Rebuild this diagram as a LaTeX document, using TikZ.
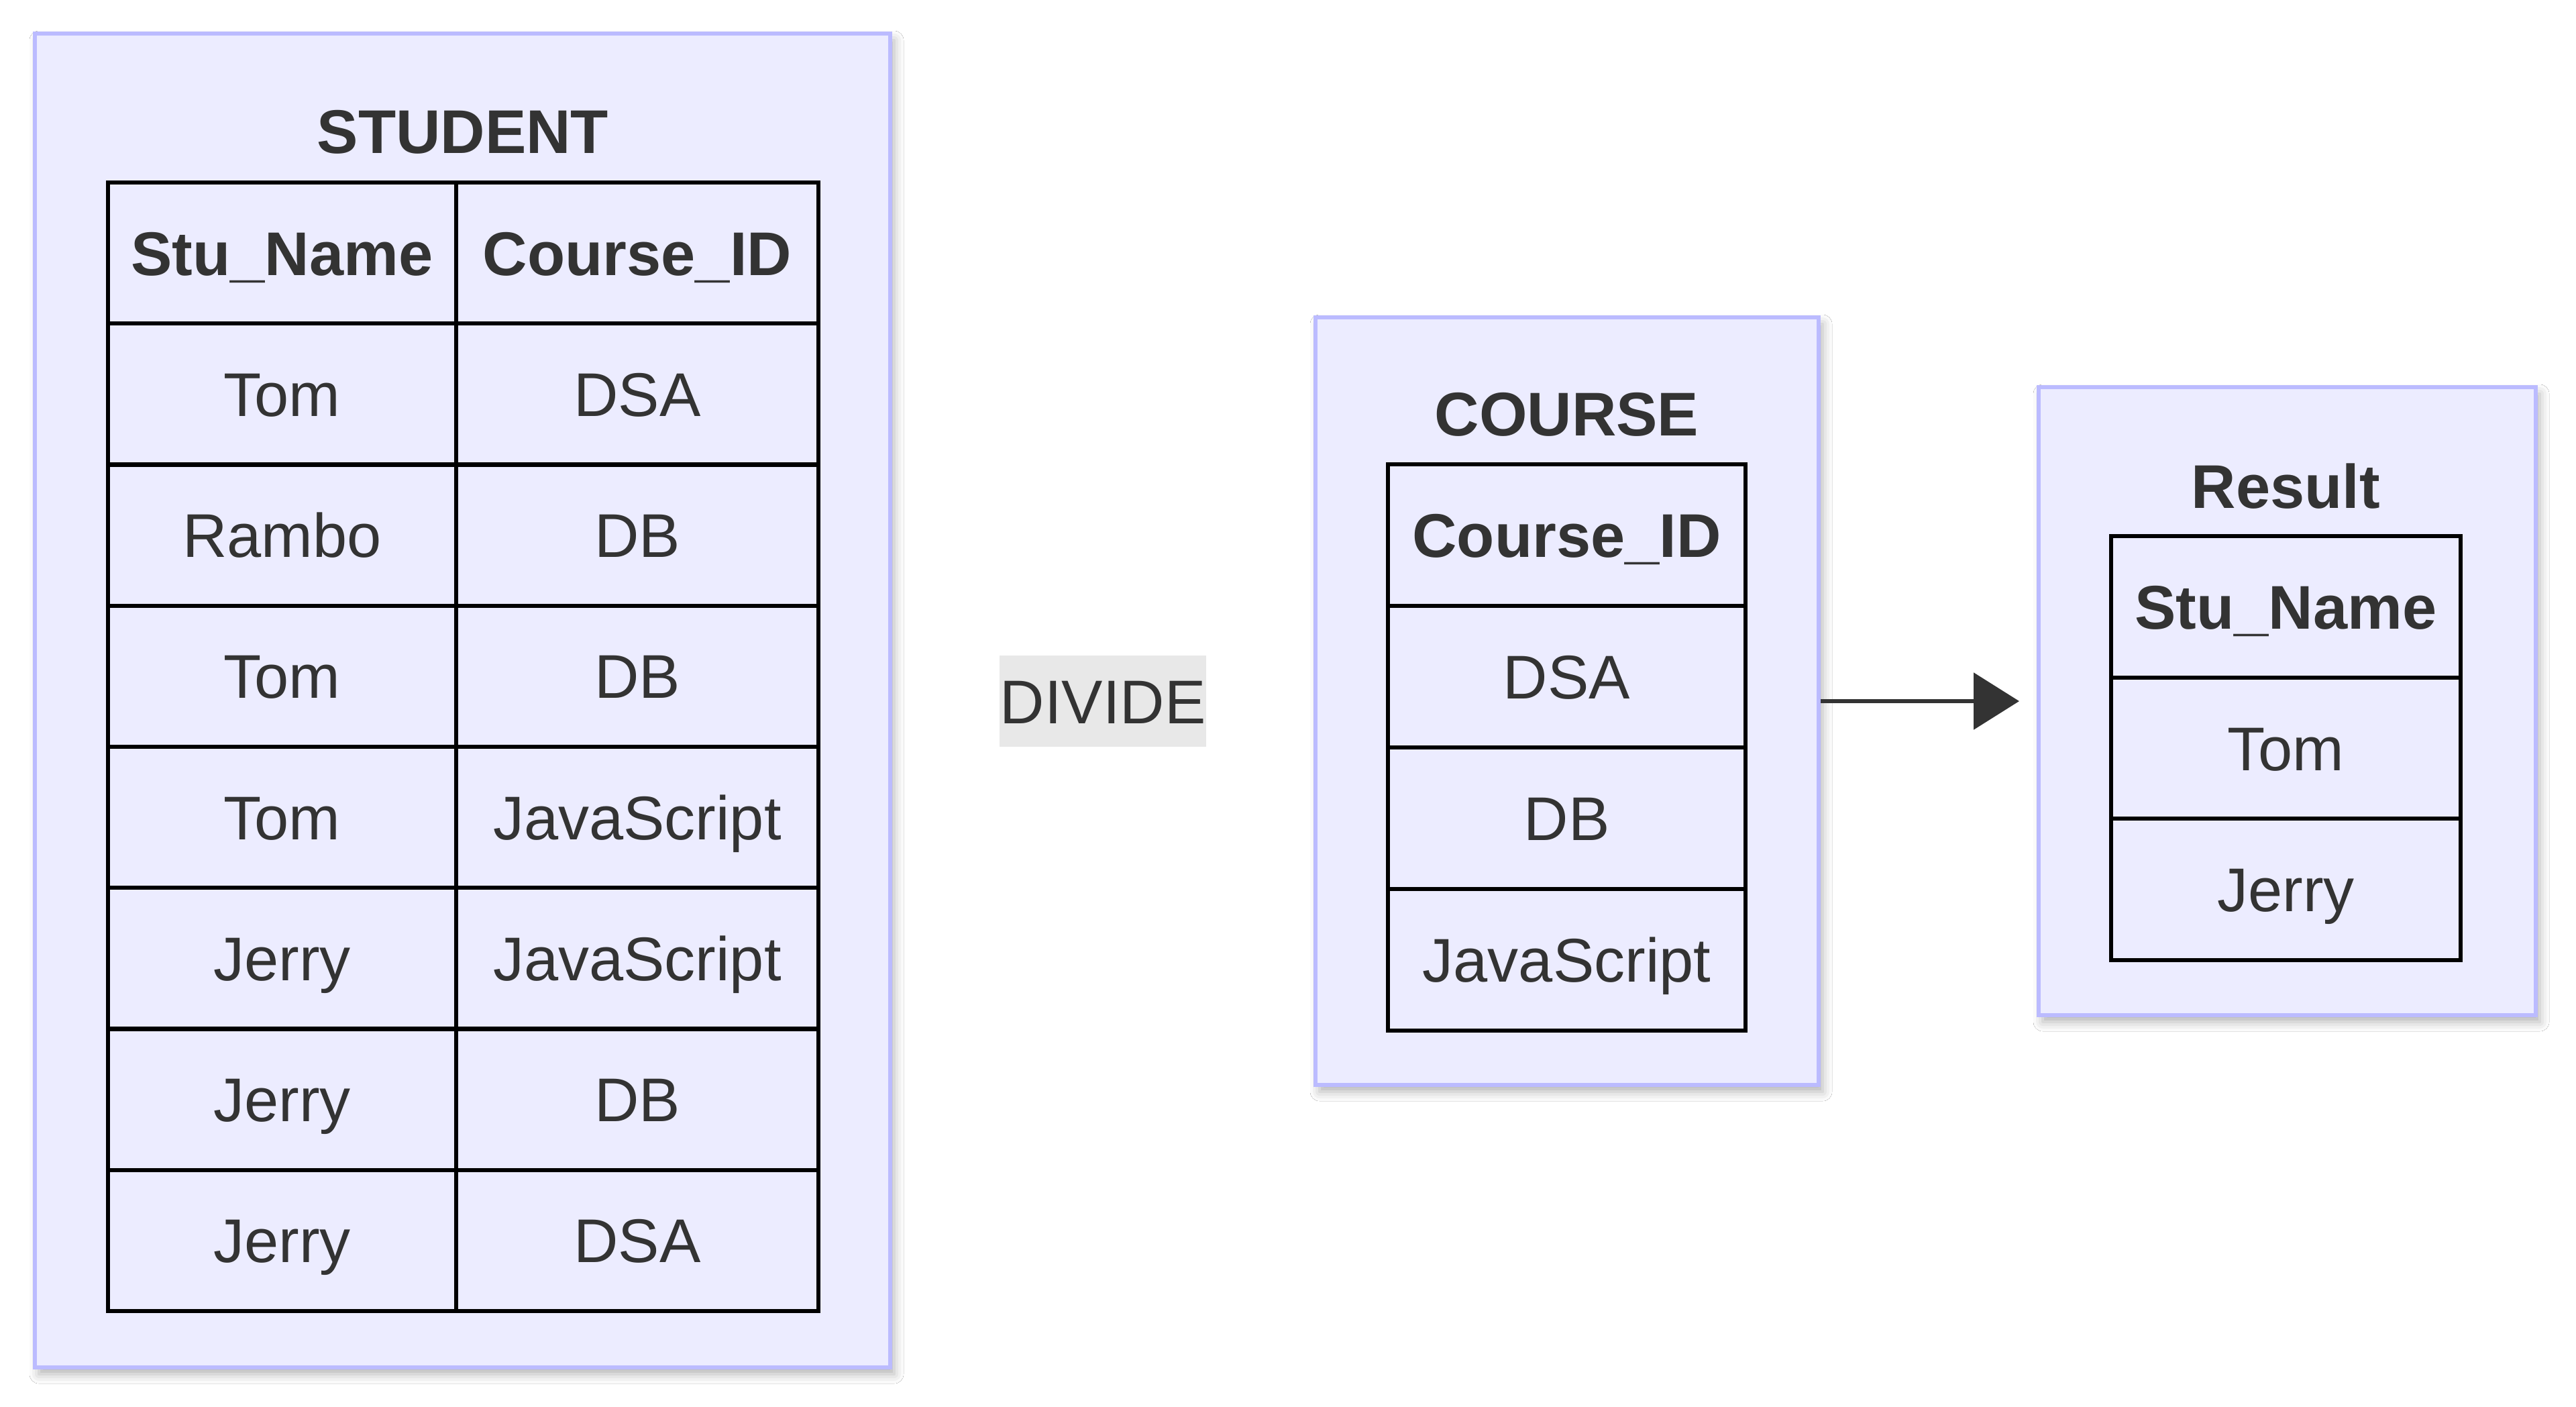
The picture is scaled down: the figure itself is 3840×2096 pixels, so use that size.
\documentclass[tikz,border=0pt]{standalone}
\usepackage{fontspec}
\setmainfont{Liberation Sans}
\usetikzlibrary{arrows.meta,shadows.blur}
\definecolor{boxfill}{HTML}{ECECFF}
\definecolor{boxline}{HTML}{BBBBFF}
\definecolor{txt}{HTML}{333333}
\definecolor{lblbg}{HTML}{E8E8E8}
\begin{document}
\begin{tikzpicture}[x=1pt,y=-1pt,
  ent/.style={rectangle, fill=boxfill, draw=boxline, line width=6pt, inner sep=0pt,
    blur shadow={shadow xshift=6pt, shadow yshift=-10pt, shadow blur radius=14pt, shadow opacity=30}},
  cell/.style={rectangle, draw=black, line width=6pt, inner sep=0pt, minimum height=210.5pt,
    text height=66pt, text depth=0pt, text=txt, font=\fontsize{92}{110}\selectfont},
  hcell/.style={cell, font=\fontsize{92}{110}\selectfont\bfseries},
  ttl/.style={inner sep=0pt, text height=66pt, text depth=0pt, text=txt, font=\fontsize{92}{110}\selectfont\bfseries},
  lbl/.style={rectangle, fill=lblbg, inner sep=0pt, minimum width=308pt, minimum height=136pt,
    text height=66pt, text depth=0pt, text=txt, font=\fontsize{92}{110}\selectfont},
  conn/.style={draw=txt, line width=6pt, -{Triangle[length=68pt,width=84pt]}, shorten >=26pt}
]
\useasboundingbox (0,0) rectangle (3840,2096);
\fill[white] (0,0) rectangle (3840,2096);

% outer boxes
\node[ent, minimum width=1275pt, minimum height=1988pt] (student) at (689.5,1044) {};
\node[ent, minimum width=750pt, minimum height=1144pt] (course) at (2336,1045) {};
\node[ent, minimum width=741pt, minimum height=936pt] (result) at (3409.5,1045) {};

% titles
\node[ttl] (studentT) at (690,195) {STUDENT};
\node[ttl] (courseT) at (2335.5,616) {COURSE};
\node[ttl] (resultT) at (3407.5,724) {Result};

% STUDENT table
\node[hcell, minimum width=519pt] (s0a) at (420.5,377.1) {Stu\_Name};
\node[hcell, minimum width=540pt] (s0b) at (950,377.1) {Course\_ID};
\node[cell, minimum width=519pt] (s1a) at (420.5,587.4) {Tom};
\node[cell, minimum width=540pt] (s1b) at (950,587.4) {DSA};
\node[cell, minimum width=519pt] (s2a) at (420.5,797.6) {Rambo};
\node[cell, minimum width=540pt] (s2b) at (950,797.6) {DB};
\node[cell, minimum width=519pt] (s3a) at (420.5,1007.9) {Tom};
\node[cell, minimum width=540pt] (s3b) at (950,1007.9) {DB};
\node[cell, minimum width=519pt] (s4a) at (420.5,1218.1) {Tom};
\node[cell, minimum width=540pt] (s4b) at (950,1218.1) {JavaScript};
\node[cell, minimum width=519pt] (s5a) at (420.5,1428.4) {Jerry};
\node[cell, minimum width=540pt] (s5b) at (950,1428.4) {JavaScript};
\node[cell, minimum width=519pt] (s6a) at (420.5,1638.6) {Jerry};
\node[cell, minimum width=540pt] (s6b) at (950,1638.6) {DB};
\node[cell, minimum width=519pt] (s7a) at (420.5,1848.9) {Jerry};
\node[cell, minimum width=540pt] (s7b) at (950,1848.9) {DSA};

% COURSE table
\node[hcell, minimum width=533pt] (c0) at (2335.5,797.5) {Course\_ID};
\node[cell, minimum width=533pt] (c1) at (2335.5,1008.5) {DSA};
\node[cell, minimum width=533pt] (c2) at (2335.5,1219.5) {DB};
\node[cell, minimum width=533pt] (c3) at (2335.5,1430.5) {JavaScript};

% Result table
\node[hcell, minimum width=521pt] (r0) at (3407.5,904.3) {Stu\_Name};
\node[cell, minimum width=521pt] (r1) at (3407.5,1115) {Tom};
\node[cell, minimum width=521pt] (r2) at (3407.5,1325.7) {Jerry};

% label
\node[lbl] (divide) at (1644,1045) {DIVIDE};

% connector
\draw[conn] (course.east) -- (result.west);
\end{tikzpicture}
\end{document}
